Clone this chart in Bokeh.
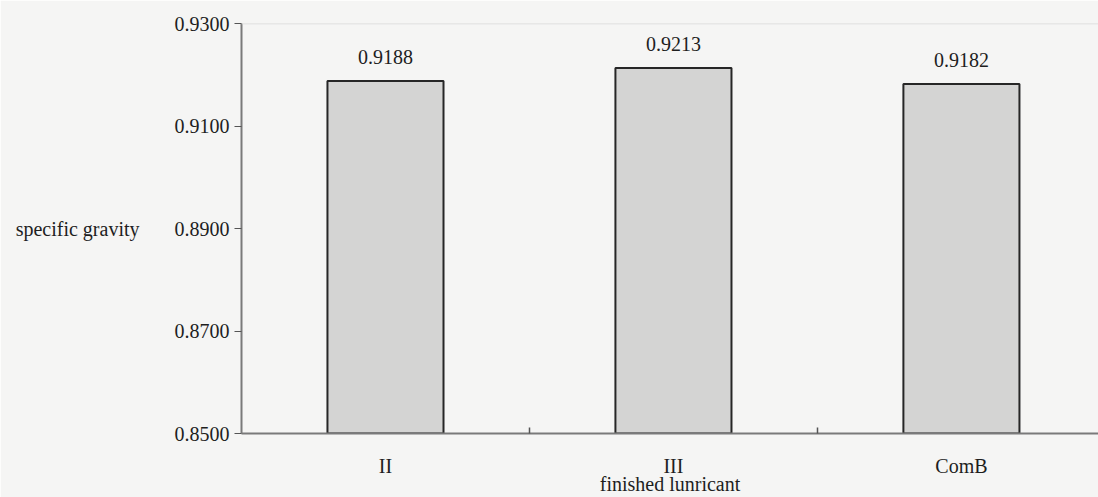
from bokeh.plotting import figure
from bokeh.models import Range1d, FixedTicker, ColumnDataSource, NumeralTickFormatter, Span
from bokeh.embed import file_html
from bokeh.resources import INLINE
from bokeh.core.properties import value

categories = ["II", "III", "ComB"]
gravity = [0.9188, 0.9213, 0.9182]
y_ticks = [0.85, 0.87, 0.89, 0.91, 0.93]

FONT = "Liberation Serif"
FS = "20px"
pos = [i + 0.5 for i in range(len(categories))]
src = ColumnDataSource(dict(x=pos, top=gravity, label=[f"{v:.4f}" for v in gravity]))

p = figure(width=1098, height=497, output_backend="svg", toolbar_location=None,
           x_range=Range1d(0, 2.976), y_range=Range1d(0.85, 0.93),
           min_border_left=241, min_border_right=0, min_border_top=23, min_border_bottom=0)
p.background_fill_color = "#f5f5f4"
p.border_fill_color = "#f5f5f4"
p.grid.visible = False
p.outline_line_color = None

p.add_layout(Span(location=0.93, dimension="width", line_color="#d6d6d6", line_width=1.5))

p.vbar(x="x", top="top", bottom=0.85, width=0.403, source=src,
       fill_color="#d4d4d3", line_color="#262626", line_width=2)
p.text(x="x", y="top", text="label", source=src, text_align="center",
       text_baseline="alphabetic", y_offset=-24, text_font=value(FONT),
       text_font_size=FS, text_color="#1e1e1e")

xa = p.xaxis[0]
xa.ticker = FixedTicker(ticks=pos, minor_ticks=[1, 2])
xa.major_label_overrides = {pos[i]: categories[i] for i in range(len(categories))}
xa.major_tick_line_color = None
xa.major_tick_in = 0
xa.major_tick_out = 0
xa.minor_tick_in = 6
xa.minor_tick_out = 0
xa.minor_tick_line_color = "#555555"
xa.minor_tick_line_width = 1.5
xa.axis_line_color = "#7a7a7a"
xa.axis_line_width = 2
xa.major_label_standoff = 21
xa.major_label_text_font = FONT
xa.major_label_text_font_size = FS
xa.major_label_text_color = "#1e1e1e"
xa.axis_label = "finished lunricant"
xa.axis_label_standoff = -7
xa.axis_label_text_font = FONT
xa.axis_label_text_font_size = FS
xa.axis_label_text_font_style = "normal"
xa.axis_label_text_color = "#1e1e1e"

ya = p.yaxis[0]
ya.ticker = FixedTicker(ticks=y_ticks, minor_ticks=[])
ya.formatter = NumeralTickFormatter(format="0.0000")
ya.major_tick_out = 7
ya.major_tick_in = 0
ya.major_tick_line_color = "#555555"
ya.minor_tick_line_color = None
ya.axis_line_color = "#7a7a7a"
ya.axis_line_width = 2
ya.major_label_standoff = 5
ya.major_label_text_font = FONT
ya.major_label_text_font_size = FS
ya.major_label_text_color = "#1e1e1e"
ya.axis_label = "specific gravity"
ya.axis_label_orientation = "horizontal"
ya.axis_label_standoff = 32
ya.axis_label_text_font = FONT
ya.axis_label_text_font_size = FS
ya.axis_label_text_font_style = "normal"
ya.axis_label_text_color = "#1e1e1e"

open("out.html", "w").write(file_html(p, INLINE))
